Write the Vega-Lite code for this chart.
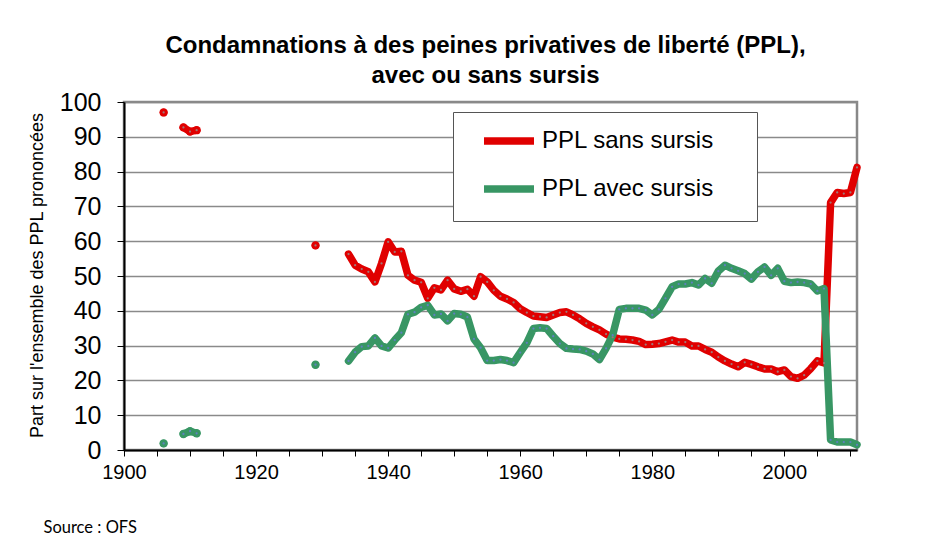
{
  "$schema": "https://vega.github.io/schema/vega-lite/v6.json",
  "width": 733,
  "height": 348,
  "autosize": {"type": "none"},
  "padding": {"left": 124, "top": 102, "right": 72, "bottom": 100},
  "background": "white",
  "config": {
    "font": "Liberation Sans",
    "view": {"stroke": "#888888", "strokeWidth": 2.5}
  },
  "title": {
    "text": ["Condamnations à des peines privatives de liberté (PPL),", "avec ou sans sursis"],
    "anchor": "middle",
    "font": "Liberation Sans",
    "fontSize": 24,
    "fontWeight": "bold",
    "color": "#000000",
    "lineHeight": 30,
    "offset": 2,
    "dx": -5
  },
  "data": {
    "values": [
      {"year": 1906, "series": "PPL sans sursis", "value": 97.0, "seg": 1},
      {"year": 1909, "series": "PPL sans sursis", "value": 92.7, "seg": 2},
      {"year": 1910, "series": "PPL sans sursis", "value": 91.5, "seg": 2},
      {"year": 1911, "series": "PPL sans sursis", "value": 91.9, "seg": 2},
      {"year": 1929, "series": "PPL sans sursis", "value": 58.8, "seg": 3},
      {"year": 1934, "series": "PPL sans sursis", "value": 56.3, "seg": 4},
      {"year": 1935, "series": "PPL sans sursis", "value": 53.1, "seg": 4},
      {"year": 1936, "series": "PPL sans sursis", "value": 52.0, "seg": 4},
      {"year": 1937, "series": "PPL sans sursis", "value": 51.2, "seg": 4},
      {"year": 1938, "series": "PPL sans sursis", "value": 48.3, "seg": 4},
      {"year": 1939, "series": "PPL sans sursis", "value": 53.6, "seg": 4},
      {"year": 1940, "series": "PPL sans sursis", "value": 59.8, "seg": 4},
      {"year": 1941, "series": "PPL sans sursis", "value": 56.9, "seg": 4},
      {"year": 1942, "series": "PPL sans sursis", "value": 57.1, "seg": 4},
      {"year": 1943, "series": "PPL sans sursis", "value": 50.2, "seg": 4},
      {"year": 1944, "series": "PPL sans sursis", "value": 48.8, "seg": 4},
      {"year": 1945, "series": "PPL sans sursis", "value": 48.2, "seg": 4},
      {"year": 1946, "series": "PPL sans sursis", "value": 43.6, "seg": 4},
      {"year": 1947, "series": "PPL sans sursis", "value": 46.6, "seg": 4},
      {"year": 1948, "series": "PPL sans sursis", "value": 46.0, "seg": 4},
      {"year": 1949, "series": "PPL sans sursis", "value": 48.8, "seg": 4},
      {"year": 1950, "series": "PPL sans sursis", "value": 46.3, "seg": 4},
      {"year": 1951, "series": "PPL sans sursis", "value": 45.6, "seg": 4},
      {"year": 1952, "series": "PPL sans sursis", "value": 46.2, "seg": 4},
      {"year": 1953, "series": "PPL sans sursis", "value": 44.2, "seg": 4},
      {"year": 1954, "series": "PPL sans sursis", "value": 49.8, "seg": 4},
      {"year": 1955, "series": "PPL sans sursis", "value": 48.3, "seg": 4},
      {"year": 1956, "series": "PPL sans sursis", "value": 45.9, "seg": 4},
      {"year": 1957, "series": "PPL sans sursis", "value": 44.2, "seg": 4},
      {"year": 1958, "series": "PPL sans sursis", "value": 43.4, "seg": 4},
      {"year": 1959, "series": "PPL sans sursis", "value": 42.4, "seg": 4},
      {"year": 1960, "series": "PPL sans sursis", "value": 40.6, "seg": 4},
      {"year": 1961, "series": "PPL sans sursis", "value": 39.5, "seg": 4},
      {"year": 1962, "series": "PPL sans sursis", "value": 38.5, "seg": 4},
      {"year": 1963, "series": "PPL sans sursis", "value": 38.3, "seg": 4},
      {"year": 1964, "series": "PPL sans sursis", "value": 38.1, "seg": 4},
      {"year": 1965, "series": "PPL sans sursis", "value": 38.8, "seg": 4},
      {"year": 1966, "series": "PPL sans sursis", "value": 39.5, "seg": 4},
      {"year": 1967, "series": "PPL sans sursis", "value": 39.7, "seg": 4},
      {"year": 1968, "series": "PPL sans sursis", "value": 38.8, "seg": 4},
      {"year": 1969, "series": "PPL sans sursis", "value": 37.7, "seg": 4},
      {"year": 1970, "series": "PPL sans sursis", "value": 36.4, "seg": 4},
      {"year": 1971, "series": "PPL sans sursis", "value": 35.4, "seg": 4},
      {"year": 1972, "series": "PPL sans sursis", "value": 34.5, "seg": 4},
      {"year": 1973, "series": "PPL sans sursis", "value": 33.3, "seg": 4},
      {"year": 1974, "series": "PPL sans sursis", "value": 32.4, "seg": 4},
      {"year": 1975, "series": "PPL sans sursis", "value": 31.9, "seg": 4},
      {"year": 1976, "series": "PPL sans sursis", "value": 31.8, "seg": 4},
      {"year": 1977, "series": "PPL sans sursis", "value": 31.6, "seg": 4},
      {"year": 1978, "series": "PPL sans sursis", "value": 31.2, "seg": 4},
      {"year": 1979, "series": "PPL sans sursis", "value": 30.3, "seg": 4},
      {"year": 1980, "series": "PPL sans sursis", "value": 30.4, "seg": 4},
      {"year": 1981, "series": "PPL sans sursis", "value": 30.6, "seg": 4},
      {"year": 1982, "series": "PPL sans sursis", "value": 31.1, "seg": 4},
      {"year": 1983, "series": "PPL sans sursis", "value": 31.6, "seg": 4},
      {"year": 1984, "series": "PPL sans sursis", "value": 31.0, "seg": 4},
      {"year": 1985, "series": "PPL sans sursis", "value": 31.0, "seg": 4},
      {"year": 1986, "series": "PPL sans sursis", "value": 29.9, "seg": 4},
      {"year": 1987, "series": "PPL sans sursis", "value": 29.9, "seg": 4},
      {"year": 1988, "series": "PPL sans sursis", "value": 28.9, "seg": 4},
      {"year": 1989, "series": "PPL sans sursis", "value": 28.1, "seg": 4},
      {"year": 1990, "series": "PPL sans sursis", "value": 26.7, "seg": 4},
      {"year": 1991, "series": "PPL sans sursis", "value": 25.6, "seg": 4},
      {"year": 1992, "series": "PPL sans sursis", "value": 24.7, "seg": 4},
      {"year": 1993, "series": "PPL sans sursis", "value": 23.9, "seg": 4},
      {"year": 1994, "series": "PPL sans sursis", "value": 25.2, "seg": 4},
      {"year": 1995, "series": "PPL sans sursis", "value": 24.6, "seg": 4},
      {"year": 1996, "series": "PPL sans sursis", "value": 23.9, "seg": 4},
      {"year": 1997, "series": "PPL sans sursis", "value": 23.3, "seg": 4},
      {"year": 1998, "series": "PPL sans sursis", "value": 23.3, "seg": 4},
      {"year": 1999, "series": "PPL sans sursis", "value": 22.5, "seg": 4},
      {"year": 2000, "series": "PPL sans sursis", "value": 23.0, "seg": 4},
      {"year": 2001, "series": "PPL sans sursis", "value": 21.1, "seg": 4},
      {"year": 2002, "series": "PPL sans sursis", "value": 20.6, "seg": 4},
      {"year": 2003, "series": "PPL sans sursis", "value": 21.5, "seg": 4},
      {"year": 2004, "series": "PPL sans sursis", "value": 23.4, "seg": 4},
      {"year": 2005, "series": "PPL sans sursis", "value": 25.6, "seg": 4},
      {"year": 2006, "series": "PPL sans sursis", "value": 25.0, "seg": 4},
      {"year": 2007, "series": "PPL sans sursis", "value": 71.1, "seg": 4},
      {"year": 2008, "series": "PPL sans sursis", "value": 74.0, "seg": 4},
      {"year": 2009, "series": "PPL sans sursis", "value": 73.7, "seg": 4},
      {"year": 2010, "series": "PPL sans sursis", "value": 74.0, "seg": 4},
      {"year": 2011, "series": "PPL sans sursis", "value": 81.2, "seg": 4},
      {"year": 1906, "series": "PPL avec sursis", "value": 1.9, "seg": 1},
      {"year": 1909, "series": "PPL avec sursis", "value": 4.6, "seg": 2},
      {"year": 1910, "series": "PPL avec sursis", "value": 5.4, "seg": 2},
      {"year": 1911, "series": "PPL avec sursis", "value": 4.8, "seg": 2},
      {"year": 1929, "series": "PPL avec sursis", "value": 24.5, "seg": 3},
      {"year": 1934, "series": "PPL avec sursis", "value": 25.6, "seg": 4},
      {"year": 1935, "series": "PPL avec sursis", "value": 28.1, "seg": 4},
      {"year": 1936, "series": "PPL avec sursis", "value": 29.7, "seg": 4},
      {"year": 1937, "series": "PPL avec sursis", "value": 29.9, "seg": 4},
      {"year": 1938, "series": "PPL avec sursis", "value": 32.2, "seg": 4},
      {"year": 1939, "series": "PPL avec sursis", "value": 29.9, "seg": 4},
      {"year": 1940, "series": "PPL avec sursis", "value": 29.3, "seg": 4},
      {"year": 1941, "series": "PPL avec sursis", "value": 31.6, "seg": 4},
      {"year": 1942, "series": "PPL avec sursis", "value": 33.7, "seg": 4},
      {"year": 1943, "series": "PPL avec sursis", "value": 39.0, "seg": 4},
      {"year": 1944, "series": "PPL avec sursis", "value": 39.6, "seg": 4},
      {"year": 1945, "series": "PPL avec sursis", "value": 41.0, "seg": 4},
      {"year": 1946, "series": "PPL avec sursis", "value": 41.6, "seg": 4},
      {"year": 1947, "series": "PPL avec sursis", "value": 38.8, "seg": 4},
      {"year": 1948, "series": "PPL avec sursis", "value": 39.1, "seg": 4},
      {"year": 1949, "series": "PPL avec sursis", "value": 37.1, "seg": 4},
      {"year": 1950, "series": "PPL avec sursis", "value": 39.2, "seg": 4},
      {"year": 1951, "series": "PPL avec sursis", "value": 39.0, "seg": 4},
      {"year": 1952, "series": "PPL avec sursis", "value": 38.2, "seg": 4},
      {"year": 1953, "series": "PPL avec sursis", "value": 31.9, "seg": 4},
      {"year": 1954, "series": "PPL avec sursis", "value": 29.4, "seg": 4},
      {"year": 1955, "series": "PPL avec sursis", "value": 25.7, "seg": 4},
      {"year": 1956, "series": "PPL avec sursis", "value": 25.7, "seg": 4},
      {"year": 1957, "series": "PPL avec sursis", "value": 26.0, "seg": 4},
      {"year": 1958, "series": "PPL avec sursis", "value": 25.7, "seg": 4},
      {"year": 1959, "series": "PPL avec sursis", "value": 25.1, "seg": 4},
      {"year": 1960, "series": "PPL avec sursis", "value": 28.0, "seg": 4},
      {"year": 1961, "series": "PPL avec sursis", "value": 30.8, "seg": 4},
      {"year": 1962, "series": "PPL avec sursis", "value": 34.9, "seg": 4},
      {"year": 1963, "series": "PPL avec sursis", "value": 35.1, "seg": 4},
      {"year": 1964, "series": "PPL avec sursis", "value": 34.9, "seg": 4},
      {"year": 1965, "series": "PPL avec sursis", "value": 32.7, "seg": 4},
      {"year": 1966, "series": "PPL avec sursis", "value": 30.6, "seg": 4},
      {"year": 1967, "series": "PPL avec sursis", "value": 29.2, "seg": 4},
      {"year": 1968, "series": "PPL avec sursis", "value": 29.0, "seg": 4},
      {"year": 1969, "series": "PPL avec sursis", "value": 28.9, "seg": 4},
      {"year": 1970, "series": "PPL avec sursis", "value": 28.4, "seg": 4},
      {"year": 1971, "series": "PPL avec sursis", "value": 27.6, "seg": 4},
      {"year": 1972, "series": "PPL avec sursis", "value": 26.0, "seg": 4},
      {"year": 1973, "series": "PPL avec sursis", "value": 29.2, "seg": 4},
      {"year": 1974, "series": "PPL avec sursis", "value": 33.0, "seg": 4},
      {"year": 1975, "series": "PPL avec sursis", "value": 40.4, "seg": 4},
      {"year": 1976, "series": "PPL avec sursis", "value": 40.7, "seg": 4},
      {"year": 1977, "series": "PPL avec sursis", "value": 40.7, "seg": 4},
      {"year": 1978, "series": "PPL avec sursis", "value": 40.7, "seg": 4},
      {"year": 1979, "series": "PPL avec sursis", "value": 40.2, "seg": 4},
      {"year": 1980, "series": "PPL avec sursis", "value": 38.8, "seg": 4},
      {"year": 1981, "series": "PPL avec sursis", "value": 40.4, "seg": 4},
      {"year": 1982, "series": "PPL avec sursis", "value": 43.6, "seg": 4},
      {"year": 1983, "series": "PPL avec sursis", "value": 46.9, "seg": 4},
      {"year": 1984, "series": "PPL avec sursis", "value": 47.7, "seg": 4},
      {"year": 1985, "series": "PPL avec sursis", "value": 47.7, "seg": 4},
      {"year": 1986, "series": "PPL avec sursis", "value": 48.1, "seg": 4},
      {"year": 1987, "series": "PPL avec sursis", "value": 47.4, "seg": 4},
      {"year": 1988, "series": "PPL avec sursis", "value": 49.3, "seg": 4},
      {"year": 1989, "series": "PPL avec sursis", "value": 47.9, "seg": 4},
      {"year": 1990, "series": "PPL avec sursis", "value": 51.4, "seg": 4},
      {"year": 1991, "series": "PPL avec sursis", "value": 53.1, "seg": 4},
      {"year": 1992, "series": "PPL avec sursis", "value": 52.2, "seg": 4},
      {"year": 1993, "series": "PPL avec sursis", "value": 51.5, "seg": 4},
      {"year": 1994, "series": "PPL avec sursis", "value": 50.7, "seg": 4},
      {"year": 1995, "series": "PPL avec sursis", "value": 49.1, "seg": 4},
      {"year": 1996, "series": "PPL avec sursis", "value": 51.2, "seg": 4},
      {"year": 1997, "series": "PPL avec sursis", "value": 52.6, "seg": 4},
      {"year": 1998, "series": "PPL avec sursis", "value": 50.2, "seg": 4},
      {"year": 1999, "series": "PPL avec sursis", "value": 52.2, "seg": 4},
      {"year": 2000, "series": "PPL avec sursis", "value": 48.5, "seg": 4},
      {"year": 2001, "series": "PPL avec sursis", "value": 48.1, "seg": 4},
      {"year": 2002, "series": "PPL avec sursis", "value": 48.3, "seg": 4},
      {"year": 2003, "series": "PPL avec sursis", "value": 48.1, "seg": 4},
      {"year": 2004, "series": "PPL avec sursis", "value": 47.7, "seg": 4},
      {"year": 2005, "series": "PPL avec sursis", "value": 45.7, "seg": 4},
      {"year": 2006, "series": "PPL avec sursis", "value": 46.4, "seg": 4},
      {"year": 2007, "series": "PPL avec sursis", "value": 2.9, "seg": 4},
      {"year": 2008, "series": "PPL avec sursis", "value": 2.3, "seg": 4},
      {"year": 2009, "series": "PPL avec sursis", "value": 2.3, "seg": 4},
      {"year": 2010, "series": "PPL avec sursis", "value": 2.3, "seg": 4},
      {"year": 2011, "series": "PPL avec sursis", "value": 1.5, "seg": 4}
    ]
  },
  "encoding": {
    "x": {
      "field": "year",
      "type": "quantitative",
      "scale": {"domain": [1900, 2011], "nice": false, "zero": false},
      "axis": {
        "title": "Source : OFS",
        "titleFont": "Lato",
        "titleFontSize": 16.5,
        "titleFontWeight": "normal",
        "titleColor": "#000000",
        "titleAnchor": null,
        "titleAlign": "left",
        "titleBaseline": "middle",
        "titleX": -81,
        "titleY": 77,
        "values": [1900, 1905, 1910, 1915, 1920, 1925, 1930, 1935, 1940, 1945, 1950, 1955, 1960, 1965, 1970, 1975, 1980, 1985, 1990, 1995, 2000, 2005, 2010],
        "labelExpr": "datum.value % 20 == 0 ? format(datum.value, 'd') : ''",
        "labelFontSize": 20,
        "labelColor": "#000000",
        "labelPadding": 6,
        "labelFlush": false,
        "labelOverlap": false,
        "tickSize": 6,
        "tickColor": "#000000",
        "domainColor": "#000000",
        "domainWidth": 2,
        "grid": false
      }
    },
    "y": {
      "field": "value",
      "type": "quantitative",
      "scale": {"domain": [0, 100], "nice": false},
      "axis": {
        "title": "Part sur l'ensemble des PPL prononcées",
        "titleFontSize": 18,
        "titleFontWeight": "normal",
        "titleColor": "#000000",
        "titleAngle": -90,
        "titleAlign": "center",
        "titleBaseline": "middle",
        "titleX": -87,
        "titleY": 173,
        "values": [0, 10, 20, 30, 40, 50, 60, 70, 80, 90, 100],
        "labelFontSize": 25,
        "labelColor": "#000000",
        "labelPadding": 16,
        "labelFlush": false,
        "labelOverlap": false,
        "tickSize": 7,
        "tickColor": "#000000",
        "domainColor": "#000000",
        "domainWidth": 2,
        "grid": true,
        "gridColor": "#8a8a8a",
        "gridWidth": 1.5
      }
    }
  },
  "layer": [
    {
      "mark": {"type": "line", "strokeWidth": 7.5, "strokeCap": "round", "strokeJoin": "round"},
      "encoding": {
        "stroke": {
          "field": "series",
          "type": "nominal",
          "scale": {"domain": ["PPL sans sursis", "PPL avec sursis"], "range": ["#e00000", "#389664"]},
          "legend": {
            "title": ".",
            "titleOrient": "right",
            "titleAnchor": "start",
            "titleBaseline": "top",
            "titleColor": "#ffffff",
            "titleFontSize": 110,
            "titlePadding": 12,
            "orient": "none",
            "legendX": 329,
            "legendY": 10,
            "fillColor": "white",
            "strokeColor": "#555555",
            "padding": 0,
            "symbolType": "stroke",
            "symbolSize": 2500,
            "symbolStrokeWidth": 7.5,
            "symbolOffset": 27,
            "rowPadding": 4,
            "labelFontSize": 24,
            "labelColor": "#000000",
            "labelOffset": 4,
            "labelLimit": 400
          }
        },
        "detail": {"field": "seg", "type": "nominal"}
      }
    },
    {
      "transform": [{"filter": "datum.year < 1930"}],
      "mark": {"type": "circle", "size": 70, "opacity": 1},
      "encoding": {
        "color": {
          "field": "series",
          "type": "nominal",
          "scale": {"domain": ["PPL sans sursis", "PPL avec sursis"], "range": ["#e00000", "#389664"]},
          "legend": null
        }
      }
    },
    {
      "mark": {"type": "circle", "size": 5, "opacity": 1},
      "encoding": {
        "fill": {
          "field": "series",
          "type": "nominal",
          "scale": {"domain": ["PPL sans sursis", "PPL avec sursis"], "range": ["#a07878", "#5f7fc0"]},
          "legend": null
        }
      }
    }
  ]
}
